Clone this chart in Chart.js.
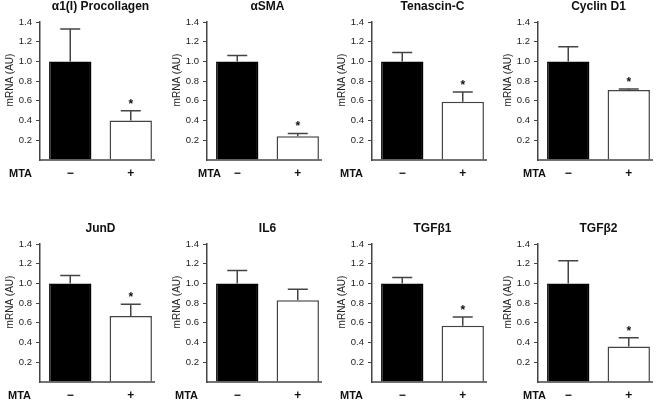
<!DOCTYPE html>
<html>
<head>
<meta charset="utf-8">
<script src="https://cdn.jsdelivr.net/npm/chart.js@4"></script>
<style>
  body { margin: 0; background: #fff; }
  #wrap { position: relative; width: 662px; height: 402px; overflow: hidden; }
  #wrap canvas { position: absolute; }
</style>
</head>
<body>
<div id="wrap"></div>
<script>
// Data
const categories = ['\u2212', '+'];
const genes = ['\u03b11(I) Procollagen', '\u03b1SMA', 'Tenascin-C', 'Cyclin D1', 'JunD', 'IL6', 'TGF\u03b21', 'TGF\u03b22'];
const controlMean = [1.00, 1.00, 1.00, 1.00, 1.00, 1.00, 1.00, 1.00];
const controlErr = [0.33, 0.06, 0.09, 0.15, 0.08, 0.13, 0.06, 0.23];
const mtaMean = [0.40, 0.24, 0.59, 0.71, 0.67, 0.83, 0.57, 0.36];
const mtaErr = [0.10, 0.03, 0.10, 0.01, 0.12, 0.11, 0.09, 0.09];
const significant = [true, true, true, true, true, false, true, true];
const yTicks = [0, 0.2, 0.4, 0.6, 0.8, 1.0, 1.2, 1.4];
const yTitle = 'mRNA (AU)';

// Layout of the panels
const panelLeft = [0, 167, 332, 498, 0, 167, 332, 498];
const panelTop = [0, 0, 0, 0, 222, 222, 222, 222];
const mtaX = [9, 31, 8, 25, 8, 8, 8, 25];

const FONT = "'Liberation Sans', Arial, sans-serif";
const AXIS = '#444';

// error bars, asterisks, titles, category labels, x axis line
const panelDecor = {
    id: 'panelDecor',
    afterDatasetsDraw(chart, args, opts) {
        const { ctx, chartArea, scales: { x, y } } = chart;
        const i = opts.index;
        const means = [controlMean[i], mtaMean[i]];
        const errs = [controlErr[i], mtaErr[i]];
        ctx.save();
        ctx.strokeStyle = AXIS;
        ctx.lineWidth = 1.5;
        means.forEach((m, j) => {
            const px = x.getPixelForValue(j);
            const y0 = y.getPixelForValue(m);
            const y1 = y.getPixelForValue(m + errs[j]);
            ctx.beginPath();
            ctx.moveTo(px, y0);
            ctx.lineTo(px, y1);
            ctx.moveTo(px - 10, y1);
            ctx.lineTo(px + 10, y1);
            ctx.stroke();
        });

        // x axis line
        ctx.beginPath();
        ctx.moveTo(chartArea.left, chartArea.bottom);
        ctx.lineTo(chartArea.left + 115, chartArea.bottom);
        ctx.stroke();

        ctx.fillStyle = '#111';
        if (significant[i]) {
            const px = x.getPixelForValue(1);
            const y1 = y.getPixelForValue(mtaMean[i] + mtaErr[i]);
            ctx.font = 'bold 12px ' + FONT;
            ctx.textAlign = 'center';
            ctx.textBaseline = 'alphabetic';
            ctx.fillText('*', px, y1 - 3);
        }

        // panel title
        ctx.font = 'bold 12px ' + FONT;
        ctx.textAlign = 'center';
        ctx.textBaseline = 'middle';
        ctx.fillText(genes[i], (chartArea.left + chartArea.right) / 2, chartArea.top - 15);

        // category labels
        categories.forEach((c, j) => {
            ctx.fillText(c, x.getPixelForValue(j), chartArea.bottom + 14);
        });

        // MTA row label
        ctx.font = 'bold 11px ' + FONT;
        ctx.textAlign = 'left';
        ctx.fillText('MTA', opts.mtaX, chartArea.bottom + 14);

        // y axis title, sits a little above the middle
        ctx.fillStyle = '#222';
        ctx.font = '10px ' + FONT;
        ctx.textAlign = 'center';
        ctx.translate(chartArea.left - 30, (chartArea.top + chartArea.bottom) / 2 - 11);
        ctx.rotate(-Math.PI / 2);
        ctx.fillText(yTitle, 0, 0);
        ctx.restore();
    }
};

const wrap = document.getElementById('wrap');

genes.forEach((gene, i) => {
    const canvas = document.createElement('canvas');
    canvas.width = 164;
    canvas.height = 180;
    canvas.style.left = panelLeft[i] + 'px';
    canvas.style.top = panelTop[i] + 'px';
    wrap.appendChild(canvas);

    new Chart(canvas.getContext('2d'), {
        type: 'bar',
        data: {
            labels: categories,
            datasets: [{
                data: [controlMean[i], mtaMean[i]],
                backgroundColor: ['#000000', '#ffffff'],
                borderColor: ['#000000', AXIS],
                borderWidth: 1.5,
                barPercentage: 0.7,
                categoryPercentage: 1.0
            }]
        },
        options: {
            responsive: false,
            animation: false,
            layout: { padding: { top: 22, right: 3, bottom: 0, left: 0 } },
            plugins: {
                legend: { display: false },
                tooltip: { enabled: false },
                panelDecor: { index: i, mtaX: mtaX[i] }
            },
            scales: {
                x: {
                    grid: { display: false },
                    border: { display: false },
                    ticks: { display: false },
                    afterFit: scale => { scale.height = 20; }
                },
                y: {
                    min: 0,
                    max: 1.4,
                    afterBuildTicks: scale => { scale.ticks = yTicks.map(v => ({ value: v })); },
                    grid: {
                        drawOnChartArea: false,
                        drawTicks: true,
                        tickLength: 4,
                        color: c => (c.tick && c.tick.value === 0) ? 'rgba(0,0,0,0)' : AXIS
                    },
                    border: { display: true, color: AXIS, width: 1.5 },
                    ticks: {
                        color: '#222',
                        padding: 4,
                        font: { family: FONT, size: 9.5 },
                        callback: v => v === 0 ? '' : v.toFixed(1)
                    },
                    title: { display: false },
                    afterFit: scale => { scale.width = 40; }
                }
            }
        },
        plugins: [panelDecor]
    });
});
</script>
</body>
</html>
